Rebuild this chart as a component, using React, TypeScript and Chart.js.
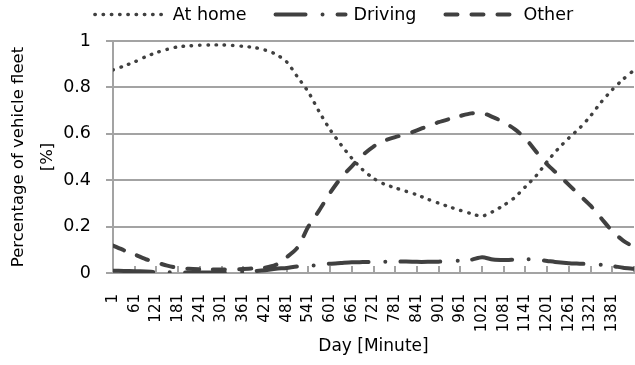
import React, { useEffect, useRef } from "react";
import { Chart, registerables } from "chart.js";

Chart.register(...registerables);

// Minute of day at which each value was read (every 30 minutes)
const MINUTES = [
  1, 31, 61, 91, 121, 151, 181, 211, 241, 271, 301, 331, 361, 391, 421, 451, 481, 511, 541, 571,
  601, 631, 661, 691, 721, 751, 781, 811, 841, 871, 901, 931, 961, 991, 1021, 1051, 1081, 1111,
  1141, 1171, 1201, 1231, 1261, 1291, 1321, 1351, 1381, 1411, 1440,
];

const AT_HOME = [
  0.875, 0.892, 0.91, 0.932, 0.95, 0.964, 0.975, 0.979, 0.982, 0.983, 0.983, 0.981, 0.977, 0.972,
  0.961, 0.943, 0.91, 0.845, 0.78, 0.695, 0.618, 0.553, 0.495, 0.445, 0.408, 0.383, 0.367, 0.352,
  0.337, 0.318, 0.301, 0.285, 0.27, 0.256, 0.245, 0.265, 0.292, 0.325, 0.372, 0.42, 0.48, 0.535,
  0.582, 0.625, 0.677, 0.738, 0.79, 0.835, 0.873,
];

const DRIVING = [
  0.01, 0.009, 0.008, 0.006, 0.004, 0.003, 0.002, 0.002, 0.002, 0.002, 0.003, 0.004, 0.006, 0.008,
  0.012, 0.018, 0.022, 0.028, 0.03, 0.035, 0.04, 0.043, 0.046, 0.047, 0.048, 0.048, 0.048, 0.05,
  0.048, 0.048, 0.049, 0.051, 0.053, 0.057, 0.068, 0.058, 0.056, 0.058, 0.06, 0.058, 0.052, 0.046,
  0.042, 0.04, 0.038, 0.035, 0.03, 0.023, 0.018,
];

const OTHER = [
  0.118, 0.098, 0.08, 0.06, 0.045, 0.032, 0.022, 0.018, 0.016, 0.015, 0.015, 0.015, 0.017, 0.02,
  0.023, 0.035, 0.068, 0.11, 0.2, 0.27, 0.345, 0.41, 0.46, 0.508, 0.545, 0.57, 0.586, 0.598,
  0.615, 0.633, 0.65, 0.664, 0.677, 0.688, 0.69, 0.672, 0.65, 0.62, 0.58, 0.522, 0.468, 0.425,
  0.38, 0.335, 0.29, 0.235, 0.18, 0.14, 0.112,
];

const SERIES_NAMES = ["At home", "Driving", "Other"];
const X_TICK_LABELS = [
  1, 61, 121, 181, 241, 301, 361, 421, 481, 541, 601, 661, 721, 781, 841, 901, 961, 1021, 1081,
  1141, 1201, 1261, 1321, 1381,
];
const X_END = 1441;
const Y_TITLE = ["Percentage of vehicle fleet", "[%]"];
const X_TITLE = "Day [Minute]";

const FONT = "'DejaVu Sans', sans-serif";
const LINE = "#404040";
const GRID = "#a3a3a3";

const legendPlugin = {
  id: "lineLegend",
  afterDraw(chart: any) {
    const ctx = chart.ctx as CanvasRenderingContext2D;
    ctx.save();
    ctx.font = `17.5px ${FONT}`;
    ctx.textBaseline = "middle";
    const sampleLen = 72;
    const gapText = 7;
    const gapItem = 28;
    const y = 14.5;
    const items = chart.data.datasets.map((ds: any) => ({ ds, w: ctx.measureText(ds.label).width }));
    const total =
      items.reduce((s: number, it: any) => s + sampleLen + gapText + it.w, 0) + gapItem * (items.length - 1);
    let x = 333.5 - total / 2;
    items.forEach((it: any) => {
      const ds = it.ds;
      ctx.beginPath();
      ctx.strokeStyle = ds.borderColor;
      ctx.lineWidth = ds.borderWidth;
      ctx.lineCap = ds.borderCapStyle;
      ctx.setLineDash(ds.legendDash || ds.borderDash);
      ctx.lineDashOffset = ds.legendDashOffset || 0;
      ctx.moveTo(x + 1, y);
      ctx.lineTo(x + sampleLen - 1, y);
      ctx.stroke();
      ctx.setLineDash([]);
      ctx.fillStyle = "#000";
      ctx.fillText(ds.label, x + sampleLen + gapText, y + 1);
      x += sampleLen + gapText + it.w + gapItem;
    });
    ctx.restore();
  },
};

export default function App() {
  const ref = useRef<HTMLCanvasElement | null>(null);

  useEffect(() => {
    if (!ref.current) return;
    const pts = (vals: number[]) => MINUTES.map((m, i) => ({ x: m, y: vals[i] }));
    const chart = new Chart(ref.current, {
      type: "line",
      data: {
        datasets: [
          {
            label: SERIES_NAMES[0],
            data: pts(AT_HOME),
            borderColor: LINE,
            borderWidth: 3.4,
            borderCapStyle: "round",
            borderDash: [0.5, 7.75],
            pointRadius: 0,
            tension: 0.25,
            fill: false,
          } as any,
          {
            label: SERIES_NAMES[1],
            data: pts(DRIVING),
            borderColor: LINE,
            borderWidth: 4,
            borderCapStyle: "round",
            borderDash: [40, 17, 0, 15],
            legendDashOffset: 10,
            pointRadius: 0,
            tension: 0.25,
            fill: false,
          } as any,
          {
            label: SERIES_NAMES[2],
            data: pts(OTHER),
            borderColor: LINE,
            borderWidth: 4,
            borderCapStyle: "round",
            borderDash: [12, 14],
            pointRadius: 0,
            tension: 0.25,
            fill: false,
          } as any,
        ],
      },
      options: {
        animation: false,
        responsive: true,
        maintainAspectRatio: false,
        layout: { padding: { top: 41, right: 1, left: 0, bottom: 0 } },
        plugins: {
          legend: { display: false },
          tooltip: { enabled: false },
        },
        scales: {
          x: {
            type: "linear",
            min: 1,
            max: X_END,
            afterBuildTicks: (scale: any) => {
              scale.ticks = X_TICK_LABELS.concat([X_END]).map((v) => ({ value: v }));
            },
            afterFit: (scale: any) => {
              scale.height = 92;
              scale.paddingLeft = 0;
              scale.paddingRight = 0;
            },
            ticks: {
              autoSkip: false,
              maxRotation: 90,
              minRotation: 90,
              padding: 28,
              color: "#000",
              font: { family: FONT, size: 15 },
              callback: (v: any) => (v === X_END ? "" : String(v)),
            },
            grid: { drawOnChartArea: false, color: GRID, lineWidth: 2, tickLength: -7 },
            border: { display: true, color: GRID, width: 2 },
            title: {
              display: true,
              text: X_TITLE,
              color: "#000",
              font: { family: FONT, size: 17 },
              padding: { top: 0, bottom: 8 },
            },
          },
          y: {
            min: 0,
            max: 1,
            afterFit: (scale: any) => {
              scale.width = 113;
            },
            ticks: {
              stepSize: 0.2,
              padding: 15,
              color: "#000",
              font: { family: FONT, size: 17.5 },
              callback: (v: any) => String(Math.round(Number(v) * 10) / 10),
            },
            grid: { color: GRID, lineWidth: 2, tickLength: 7 },
            border: { display: true, color: GRID, width: 2 },
            title: {
              display: true,
              text: Y_TITLE,
              color: "#000",
              font: { family: FONT, size: 16.5, lineHeight: 1.75 },
              padding: { top: 4, bottom: 0 },
            },
          },
        },
      },
      plugins: [legendPlugin],
    });
    return () => chart.destroy();
  }, []);

  return (
    <div style={{ position: "fixed", left: 0, top: 0, width: 635, height: 365, background: "#fff" }}>
      <canvas ref={ref} />
    </div>
  );
}
